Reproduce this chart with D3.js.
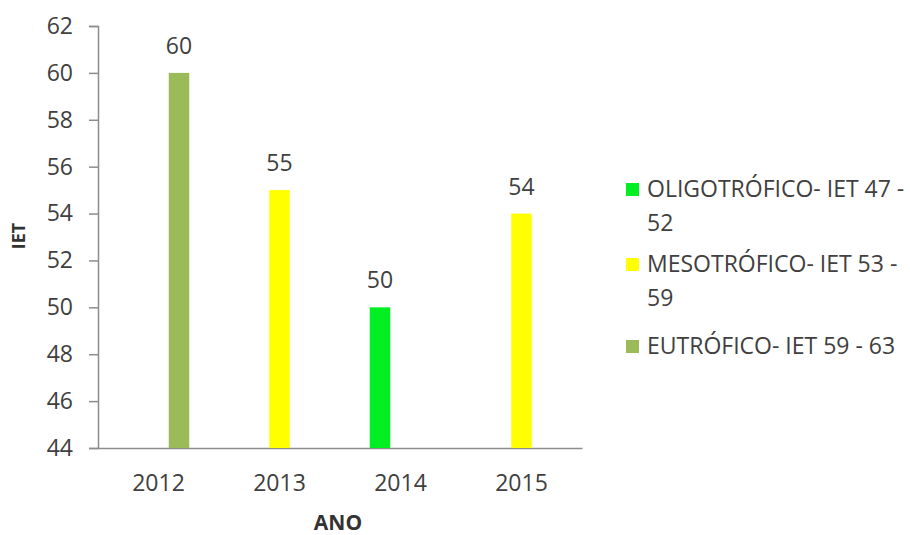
<!DOCTYPE html>
<html>
<head>
<meta charset="utf-8">
<script src="https://cdn.jsdelivr.net/npm/d3@7"></script>
<style>
  html, body { margin: 0; padding: 0; background: #fff; }
  text { font-family: "Open Sans", sans-serif; }
</style>
</head>
<body>
<div id="chart"></div>
<script>
// dados
const years = ["2012", "2013", "2014", "2015"];
const seriesNames = ["OLIGOTRÓFICO- IET 47 - 52", "MESOTRÓFICO- IET 53 - 59", "EUTRÓFICO- IET 59 - 63"];
const legendLines = [["OLIGOTRÓFICO- IET 47 -", "52"], ["MESOTRÓFICO- IET 53 -", "59"], ["EUTRÓFICO- IET 59 - 63"]];
const oligo = [null, null, 50, null];
const meso = [null, 55, null, 54];
const eutro = [60, null, null, null];
const yTicks = [44, 46, 48, 50, 52, 54, 56, 58, 60, 62];
const seriesColors = ["#00ee22", "#ffff00", "#9bbb59"];

const width = 910, height = 535;
const margin = { top: 26, left: 98, right: 328, bottom: 87 };
const fs = 23;

const svg = d3.select("#chart").append("svg")
  .attr("width", width).attr("height", height);

const x0 = d3.scaleBand().domain(years).range([margin.left, width - margin.right]).padding(0);
const x1 = d3.scaleBand().domain(seriesNames).range([0, x0.bandwidth()]).paddingInner(0).paddingOuter(1.45);
const y = d3.scaleLinear().domain([44, 62]).range([height - margin.bottom, margin.top]);

const allSeries = [oligo, meso, eutro];

// eixo y
const yAxis = svg.append("g")
  .attr("transform", `translate(${margin.left},0)`)
  .call(d3.axisLeft(y).tickValues(yTicks).tickSize(9).tickPadding(16));
yAxis.select(".domain").attr("stroke", "#8c8c8c").attr("stroke-width", 1.5);
yAxis.selectAll(".tick line").attr("stroke", "#8c8c8c").attr("stroke-width", 1.5);
yAxis.selectAll(".tick text").attr("font-size", fs).attr("fill", "#404040")
  .attr("font-family", "Open Sans");

// eixo x
const xAxis = svg.append("g")
  .attr("transform", `translate(0,${y(44)})`)
  .call(d3.axisBottom(x0).tickSize(0).tickPadding(27));
xAxis.select(".domain").attr("stroke", "#8c8c8c").attr("stroke-width", 1.5);
xAxis.selectAll(".tick text").attr("font-size", fs).attr("fill", "#404040")
  .attr("font-family", "Open Sans");

// barras
allSeries.forEach((vals, si) => {
  vals.forEach((v, i) => {
    if (v == null) return;
    const bx = x0(years[i]) + x1(seriesNames[si]);
    svg.append("rect")
      .attr("x", bx).attr("y", y(v))
      .attr("width", x1.bandwidth()).attr("height", y(44) - y(v))
      .attr("fill", seriesColors[si]);
    svg.append("text")
      .attr("x", bx + x1.bandwidth() / 2).attr("y", y(v) - 19)
      .attr("text-anchor", "middle").attr("font-size", fs).attr("fill", "#404040")
      .text(v);
  });
});

// titulos dos eixos
svg.append("text")
  .attr("transform", `translate(25,236) rotate(-90)`)
  .attr("text-anchor", "middle").attr("font-size", 18).attr("font-weight", "bold")
  .attr("fill", "#333").text("IET");
svg.append("text")
  .attr("x", 338).attr("y", 530)
  .attr("text-anchor", "middle").attr("font-size", 21).attr("font-weight", "bold")
  .attr("fill", "#333").text("ANO");

// legenda
const legendBase = [197, 272, 354];
legendLines.forEach((lines, i) => {
  const g = svg.append("g").attr("transform", `translate(626,${legendBase[i]})`);
  g.append("rect").attr("x", 0).attr("y", -14).attr("width", 13).attr("height", 13)
    .attr("fill", seriesColors[i]);
  const t = g.append("text").attr("x", 21).attr("y", 0).attr("font-size", fs).attr("fill", "#404040");
  lines.forEach((ln, j) => {
    t.append("tspan").attr("x", 21).attr("dy", j === 0 ? 0 : 34).text(ln);
  });
});
</script>
</body>
</html>
